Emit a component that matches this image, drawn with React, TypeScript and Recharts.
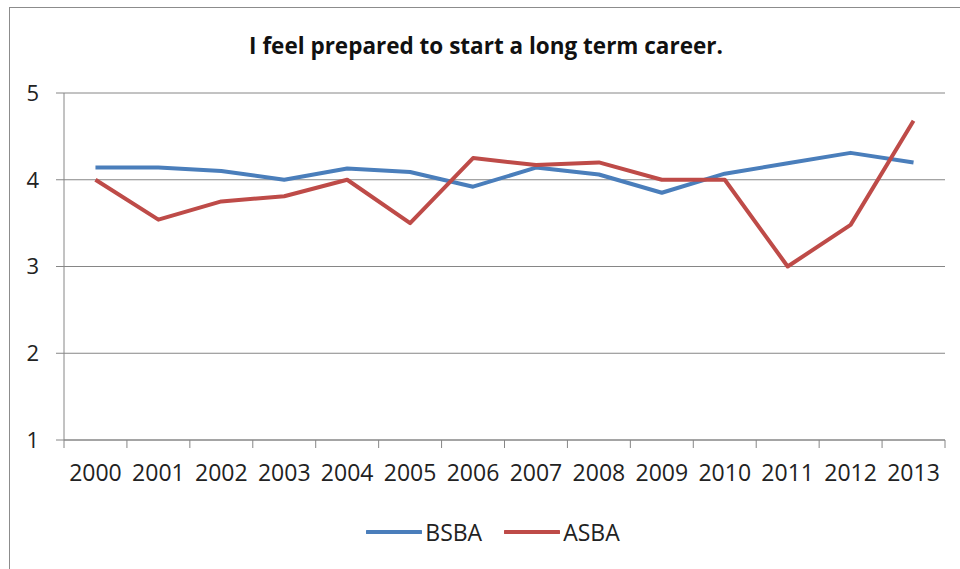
import React from "react";
import { LineChart, Line, XAxis, YAxis, CartesianGrid, Legend } from "recharts";

const years = ["2000","2001","2002","2003","2004","2005","2006","2007","2008","2009","2010","2011","2012","2013"];
const bsba = [4.14, 4.14, 4.10, 4.0, 4.13, 4.09, 3.92, 4.14, 4.06, 3.85, 4.07, 4.19, 4.31, 4.20];
const asba = [4.0, 3.54, 3.75, 3.81, 4.0, 3.5, 4.25, 4.17, 4.2, 4.0, 4.0, 3.0, 3.48, 4.68];
const yTicks = [1, 2, 3, 4, 5];

const data = years.map((y, i) => ({ year: y, BSBA: bsba[i], ASBA: asba[i] }));

const W = 960;
const H = 569;
const M = { top: 93, right: 15, left: 10, bottom: 0 };
const YW = 54;
const LEGEND_H = 32;
const PLOT_W = W - M.left - M.right - YW;
const BW = PLOT_W / years.length;
const GRID = "#868686";
const BLUE = "#4A7EBB";
const RED = "#BE4B48";
const FONT = "'Open Sans', 'Noto Sans', sans-serif";

const XTick = (props: any) => {
  const { x, y, payload, index } = props;
  return (
    <g>
      <line x1={x + BW / 2} x2={x + BW / 2} y1={y - 8} y2={y} stroke={GRID} strokeWidth={1} />
      {index === 0 && <line x1={x - BW / 2} x2={x - BW / 2} y1={y - 8} y2={y} stroke={GRID} strokeWidth={1} />}
      <text x={x} y={y + 33} textAnchor="middle" fontFamily={FONT} fontSize={23} fill="#222">
        {payload.value}
      </text>
    </g>
  );
};

const LegendContent = () => {
  const items = [
    { name: "BSBA", color: BLUE },
    { name: "ASBA", color: RED },
  ];
  return (
    <div style={{ display: "flex", justifyContent: "center", alignItems: "center", width: W, paddingLeft: 26, boxSizing: "border-box", fontFamily: FONT, fontSize: 23, color: "#222" }}>
      {items.map((it, i) => (
        <div key={it.name} style={{ display: "flex", alignItems: "center", marginLeft: i === 0 ? 0 : 22 }}>
          <svg width={56} height={10} style={{ marginRight: 3 }}>
            <line x1={1} x2={55} y1={5} y2={5} stroke={it.color} strokeWidth={4} strokeLinecap="round" />
          </svg>
          <span>{it.name}</span>
        </div>
      ))}
    </div>
  );
};

export default function App() {
  return (
    <div style={{ position: "absolute", left: 0, top: 0, width: W, height: H, overflow: "hidden", background: "#fff" }}>
      <div style={{ position: "absolute", left: 9, top: 7, width: 960, height: 580, borderLeft: "1px solid #8c8c8c", borderTop: "1px solid #8c8c8c" }} />
      <div style={{ position: "absolute", left: 0, top: 30, width: 972, textAlign: "center", fontFamily: FONT, fontWeight: 700, fontSize: 22.5, color: "#111" }}>
        I feel prepared to start a long term career.
      </div>
      <div style={{ position: "absolute", left: 0, top: 0 }}>
        <LineChart width={W} height={H} data={data} margin={M}>
          <CartesianGrid horizontal={true} vertical={false} stroke={GRID} strokeWidth={1} />
          <XAxis
            dataKey="year"
            scale="band"
            height={H - 440 - M.bottom - LEGEND_H}
            axisLine={{ stroke: GRID, strokeWidth: 1 }}
            tickLine={false}
            tickSize={8}
            tickMargin={0}
            interval={0}
            tick={<XTick />}
          />
          <YAxis
            width={YW}
            domain={[1, 5]}
            ticks={yTicks}
            interval={0}
            axisLine={{ stroke: GRID, strokeWidth: 1 }}
            tickLine={{ stroke: GRID, strokeWidth: 1 }}
            tickSize={8}
            tickMargin={17}
            tick={{ fontFamily: FONT, fontSize: 22, fill: "#222" }}
          />
          <Legend
            layout="vertical"
            align="center"
            verticalAlign="bottom"
            height={LEGEND_H}
            content={<LegendContent />}
            wrapperStyle={{ position: "absolute", top: 516, left: 0, width: W }}
          />
          <Line type="linear" dataKey="BSBA" stroke={BLUE} strokeWidth={4} dot={false} isAnimationActive={false} strokeLinejoin="round" />
          <Line type="linear" dataKey="ASBA" stroke={RED} strokeWidth={4} dot={false} isAnimationActive={false} strokeLinejoin="round" />
        </LineChart>
      </div>
    </div>
  );
}
